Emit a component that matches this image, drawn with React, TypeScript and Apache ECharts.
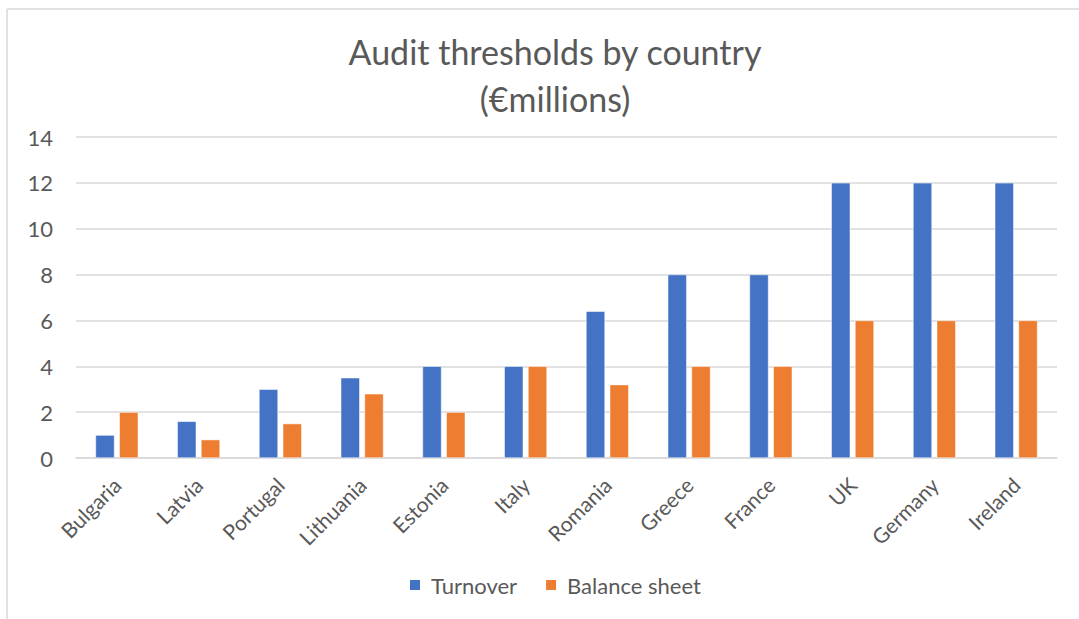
import React, { useEffect, useRef } from "react";
import * as echarts from "echarts";

const countries = ["Bulgaria", "Latvia", "Portugal", "Lithuania", "Estonia", "Italy", "Romania", "Greece", "France", "UK", "Germany", "Ireland"];
const turnover = [1, 1.6, 3, 3.5, 4, 4, 6.4, 8, 8, 12, 12, 12];
const balanceSheet = [2, 0.8, 1.5, 2.8, 2, 4, 3.2, 4, 4, 6, 6, 6];
const yTicks = { min: 0, max: 14, interval: 2 };

const FONT = "Lato, 'Open Sans', sans-serif";
const GRAY = "#595959";

export default function App() {
  const ref = useRef<HTMLDivElement>(null);
  useEffect(() => {
    if (!ref.current) return;
    const chart = echarts.init(ref.current, undefined, { renderer: "svg" });
    chart.setOption({
      animation: false,
      backgroundColor: "#ffffff",
      textStyle: { fontFamily: FONT },
      title: {
        text: "Audit thresholds by country\n(€millions)",
        left: 550,
        textAlign: "center",
        top: 23,
        textStyle: { fontFamily: FONT, fontSize: 34, fontWeight: "normal", color: GRAY, lineHeight: 47 },
      },
      graphic: [
        { type: "line", shape: { x1: 7, y1: 9, x2: 7, y2: 619 }, style: { stroke: "#d9d9d9", lineWidth: 1.5 } },
        { type: "line", shape: { x1: 7, y1: 9, x2: 1079, y2: 9 }, style: { stroke: "#d9d9d9", lineWidth: 1.5 } },
      ],
      legend: {
        left: 403,
        top: 569,
        itemWidth: 12,
        itemHeight: 12,
        itemGap: 27,
        icon: "rect",
        textStyle: { fontFamily: FONT, fontSize: 22, color: GRAY, padding: [0, 0, 0, 5] },
        data: ["Turnover", "Balance sheet"],
      },
      grid: { left: 76, right: 22, top: 137, bottom: 161, containLabel: false },
      xAxis: {
        type: "category",
        data: countries,
        axisLine: { lineStyle: { color: "#d9d9d9", width: 1.5 } },
        axisTick: { show: false },
        axisLabel: { rotate: 45, fontSize: 21, color: GRAY, margin: 23, fontFamily: FONT },
      },
      yAxis: {
        type: "value",
        min: yTicks.min,
        max: yTicks.max,
        interval: yTicks.interval,
        axisLine: { show: false },
        axisTick: { show: false },
        splitLine: { lineStyle: { color: "#d9d9d9", width: 1.5 } },
        axisLabel: { fontSize: 22, color: GRAY, margin: 23, fontFamily: FONT },
      },
      series: [
        {
          name: "Turnover",
          type: "bar",
          data: turnover,
          barWidth: 19,
          barGap: "25%",
          itemStyle: { color: "#4472C4", borderColor: "#ffffff", borderWidth: 0.5 },
        },
        {
          name: "Balance sheet",
          type: "bar",
          data: balanceSheet,
          barWidth: 19,
          itemStyle: { color: "#ED7D31", borderColor: "#ffffff", borderWidth: 0.5 },
        },
      ],
    });
    return () => chart.dispose();
  }, []);
  return <div ref={ref} style={{ position: "fixed", left: 0, top: 0, width: 1079, height: 619 }} />;
}
